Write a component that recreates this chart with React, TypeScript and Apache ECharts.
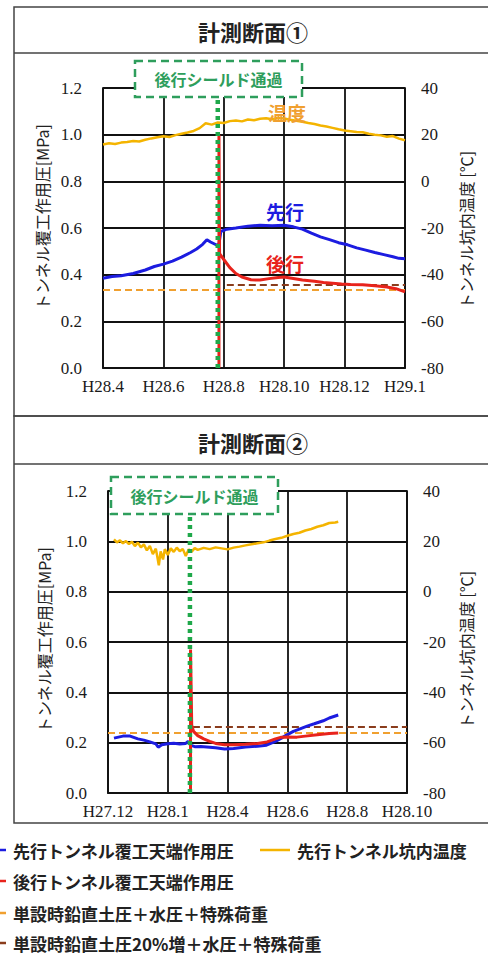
import React, { useEffect, useRef } from "react";
import * as echarts from "echarts";

// ---- tick labels ----
const X_LABELS_1 = ["H28.4", "H28.6", "H28.8", "H28.10", "H28.12", "H29.1"];
const X_LABELS_2 = ["H27.12", "H28.1", "H28.4", "H28.6", "H28.8", "H28.10"];

// ---- section 1 (x = tick index position) ----
const s1Lead: [number, number][] = [
  [0, 0.385], [0.15, 0.392], [0.3, 0.395], [0.5, 0.405], [0.7, 0.42], [0.85, 0.435], [1.0, 0.445],
  [1.15, 0.458], [1.3, 0.475], [1.45, 0.495], [1.55, 0.51], [1.65, 0.53], [1.72, 0.55], [1.78, 0.54],
  [1.88, 0.527], [1.92, 0.53], [1.95, 0.585], [2.05, 0.595], [2.2, 0.6], [2.4, 0.608], [2.6, 0.612],
  [2.8, 0.61], [3.0, 0.612], [3.15, 0.605], [3.3, 0.595], [3.45, 0.578], [3.6, 0.562], [3.75, 0.55],
  [3.9, 0.537], [4.05, 0.528], [4.2, 0.515], [4.35, 0.505], [4.5, 0.495], [4.65, 0.486], [4.8, 0.477],
  [4.9, 0.47], [5.0, 0.468],
];
const s1Trail: [number, number][] = [
  [1.92, 0], [1.92, 1.0], [1.93, 0.49], [2.0, 0.465], [2.1, 0.43], [2.2, 0.405], [2.3, 0.39],
  [2.45, 0.378], [2.6, 0.377], [2.75, 0.383], [2.9, 0.388], [3.0, 0.39], [3.15, 0.384], [3.3, 0.377],
  [3.5, 0.372], [3.65, 0.366], [3.8, 0.363], [3.95, 0.36], [4.1, 0.358], [4.3, 0.357], [4.5, 0.352],
  [4.7, 0.347], [4.85, 0.34], [5.0, 0.326],
];
const s1Temp: [number, number][] = [
  [0.0, 15.8], [0.1, 16.3], [0.2, 16.0], [0.3, 16.6], [0.4, 16.9], [0.5, 17.3], [0.6, 17.1],
  [0.7, 17.8], [0.8, 18.4], [0.9, 18.9], [1.0, 19.3], [1.1, 19.0], [1.2, 19.8], [1.3, 20.4],
  [1.4, 20.9], [1.5, 21.6], [1.6, 22.8], [1.7, 24.9], [1.8, 24.3], [1.9, 25.2], [2.0, 25.0],
  [2.1, 25.8], [2.2, 26.1], [2.3, 25.7], [2.4, 26.5], [2.5, 26.2], [2.6, 26.8], [2.7, 27.0],
  [2.8, 26.6], [2.9, 27.2], [3.0, 26.9], [3.1, 26.4], [3.2, 26.0], [3.3, 25.5], [3.4, 25.0],
  [3.5, 24.6], [3.6, 23.9], [3.7, 23.5], [3.8, 22.9], [3.9, 22.3], [4.0, 21.8], [4.1, 21.5],
  [4.2, 21.1], [4.3, 21.0], [4.4, 20.4], [4.5, 20.0], [4.6, 19.7], [4.7, 19.1], [4.8, 19.4],
  [4.9, 18.3], [5.0, 17.6],
];
const s1Design = 0.334;
const s1Design20 = 0.356;
const s1Design20Start = 2.05;
const s1Pass = 1.9;

// ---- section 2 ----
const s2Lead: [number, number][] = [
  [0.1, 0.218], [0.25, 0.226], [0.37, 0.226], [0.5, 0.215], [0.6, 0.21], [0.7, 0.203], [0.8, 0.195],
  [0.84, 0.182], [0.9, 0.192], [1.0, 0.196], [1.1, 0.198], [1.2, 0.195], [1.3, 0.197], [1.34, 0.205],
  [1.38, 0.19], [1.45, 0.184], [1.55, 0.185], [1.65, 0.183], [1.8, 0.18], [1.95, 0.175], [2.1, 0.177],
  [2.3, 0.183], [2.5, 0.186], [2.65, 0.19], [2.8, 0.205], [2.9, 0.218], [3.0, 0.232], [3.1, 0.245],
  [3.2, 0.254], [3.33, 0.266], [3.45, 0.275], [3.6, 0.287], [3.7, 0.298], [3.85, 0.31],
];
const s2Trail: [number, number][] = [
  [1.38, 0], [1.38, 0.57], [1.4, 0.27], [1.43, 0.245], [1.5, 0.228], [1.6, 0.215], [1.7, 0.205],
  [1.8, 0.197], [1.95, 0.192], [2.1, 0.192], [2.3, 0.194], [2.5, 0.197], [2.66, 0.203], [2.8, 0.215],
  [2.9, 0.222], [3.0, 0.223], [3.16, 0.222], [3.3, 0.226], [3.5, 0.231], [3.7, 0.236], [3.85, 0.238],
];
const s2Temp: [number, number][] = [
  [0.1, 20.8], [0.15, 19.6], [0.2, 20.4], [0.25, 19.2], [0.3, 20.1], [0.35, 18.9], [0.4, 19.8],
  [0.45, 18.1], [0.5, 19.5], [0.55, 17.6], [0.6, 18.8], [0.65, 16.4], [0.7, 18.2], [0.75, 14.9],
  [0.8, 17.1], [0.85, 10.5], [0.88, 16.0], [0.92, 12.8], [0.95, 16.9], [1.0, 14.6], [1.05, 17.2],
  [1.1, 15.8], [1.15, 17.5], [1.2, 16.1], [1.25, 17.0], [1.3, 14.2], [1.35, 16.8], [1.4, 15.9],
  [1.45, 17.3], [1.5, 16.6], [1.6, 17.4], [1.7, 16.9], [1.8, 17.6], [1.9, 17.2], [2.0, 16.8],
  [2.1, 17.5], [2.2, 17.9], [2.3, 18.4], [2.4, 18.8], [2.5, 19.2], [2.6, 19.6], [2.7, 20.3],
  [2.8, 20.9], [2.9, 21.4], [3.0, 22.2], [3.1, 22.9], [3.2, 23.4], [3.3, 24.3], [3.4, 24.9],
  [3.5, 25.8], [3.6, 26.4], [3.7, 27.3], [3.8, 27.5], [3.85, 27.8],
];
const s2Design = 0.238;
const s2Design20 = 0.262;
const s2Design20Start = 1.42;
const s2Pass = 1.37;

const LEGEND_NAMES = [
  "先行トンネル覆工天端作用圧",
  "後行トンネル覆工天端作用圧",
  "単設時鉛直土圧＋水圧＋特殊荷重",
  "単設時鉛直土圧20%増＋水圧＋特殊荷重",
];
const LEGEND_TEMP = "先行トンネル坑内温度";

const C_BLUE = "#1c1ce0";
const C_RED = "#e8231c";
const C_YELLOW = "#f4b400";
const C_ORANGE = "#f0a030";
const C_BROWN = "#8a3c1c";
const C_GREEN = "#2e9e5c";
const C_DOT = "#1fa84a";

const SERIF = "'Liberation Serif', 'Times New Roman', serif";
const JP = "'Noto Sans CJK JP', 'Noto Sans', sans-serif";

export default function App() {
  const ref = useRef<HTMLDivElement>(null);
  useEffect(() => {
    if (!ref.current) return;
    const chart = echarts.init(ref.current, undefined, { renderer: "svg" });

    const gridLine = { show: true, lineStyle: { color: "#111", width: 1.8 } };
    const axisLine = { show: true, lineStyle: { color: "#111", width: 1.8 } };
    const tickLabel = { fontFamily: SERIF, fontSize: 17, color: "#1a1a1a" };

    const xAxisFor = (gi: number, labels: string[]) => ({
      type: "value", gridIndex: gi, min: 0, max: 5, interval: 1,
      axisLine, axisTick: { show: false }, splitLine: gridLine,
      axisLabel: { ...tickLabel, margin: 10, formatter: (v: number) => labels[Math.round(v)] ?? "" },
    });
    const yLeft = (gi: number) => ({
      type: "value", gridIndex: gi, min: 0, max: 1.2, interval: 0.2, position: "left",
      axisLine, axisTick: { show: false }, splitLine: gridLine,
      axisLabel: { ...tickLabel, margin: 21, formatter: (v: number) => v.toFixed(1) },
    });
    const yRight = (gi: number) => ({
      type: "value", gridIndex: gi, min: -80, max: 40, interval: 20, position: "right",
      axisLine, axisTick: { show: false }, splitLine: { show: false },
      axisLabel: { ...tickLabel, margin: 16 },
    });

    const line = (xi: number, yi: number, data: any[], color: string, width: number, extra: any = {}) => ({
      type: "line", xAxisIndex: xi, yAxisIndex: yi, data, showSymbol: false, symbol: "none",
      lineStyle: { color, width }, z: 3, silent: true, ...extra,
    });
    const hline = (xi: number, yi: number, x0: number, v: number, color: string) =>
      line(xi, yi, [[x0, v], [5, v]], color, 2, { lineStyle: { color, width: 2, type: [7, 4] }, z: 2 });
    const passLine = (xi: number, yi: number, x: number) =>
      line(xi, yi, [[x, 0], [x, 1.2]], C_DOT, 4.5, { lineStyle: { color: C_DOT, width: 4.5, type: [4, 4], cap: "butt" }, z: 6 });

    const graphic: any[] = [];
    const frame = (y: number, h: number, divY: number, title: string, ty: number) => {
      graphic.push({ type: "rect", shape: { x: 14, y, width: 490, height: h }, style: { fill: "none", stroke: "#444", lineWidth: 1.5 }, z: 100 });
      graphic.push({ type: "line", shape: { x1: 14, y1: divY, x2: 488, y2: divY }, style: { stroke: "#444", lineWidth: 1.5 }, z: 100 });
      graphic.push({ type: "text", x: 253, y: ty, style: { text: title, font: `bold 22px ${JP}`, fill: "#222", textAlign: "center", textVerticalAlign: "middle" }, z: 100 });
    };
    frame(7, 409, 53, "計測断面①", 31);
    frame(416, 407, 464, "計測断面②", 442);

    const vtitle = (x: number, y: number, text: string) =>
      graphic.push({ type: "text", x, y, rotation: Math.PI / 2, style: { text, font: `16px ${JP}`, fill: "#222", textAlign: "center", textVerticalAlign: "middle" }, z: 100 });
    vtitle(42, 217, "トンネル覆工作用圧[MPa]");
    vtitle(466, 230, "トンネル坑内温度 [℃]");
    vtitle(44, 640, "トンネル覆工作用圧[MPa]");
    vtitle(466, 650, "トンネル坑内温度 [℃]");

    const passBox = (x: number, y: number, w: number, h: number) => {
      graphic.push({ type: "rect", shape: { x, y, width: w, height: h }, style: { fill: "#fff", stroke: C_GREEN, lineWidth: 2.5, lineDash: [8, 5] }, z: 100 });
      graphic.push({ type: "text", x: x + w / 2, y: y + h / 2, style: { text: "後行シールド通過", font: `bold 16px ${JP}`, fill: C_GREEN, textAlign: "center", textVerticalAlign: "middle" }, z: 101 });
    };
    passBox(135, 61, 167, 36);
    passBox(111, 477, 167, 37);

    const tag = (x: number, y: number, text: string, color: string) =>
      graphic.push({ type: "text", x, y, style: { text, font: `bold 19px ${JP}`, fill: color, textAlign: "center", textVerticalAlign: "middle" }, z: 100 });
    tag(287, 112, "温度", C_ORANGE);
    tag(285, 211, "先行", C_BLUE);
    tag(285, 263, "後行", C_RED);

    const legendColors = [C_BLUE, C_RED, C_ORANGE, C_BROWN];
    const rowsY = [850, 881, 913, 943];
    LEGEND_NAMES.forEach((name, i) => {
      graphic.push({ type: "line", shape: { x1: 0, y1: rowsY[i], x2: 6, y2: rowsY[i] }, style: { stroke: legendColors[i], lineWidth: 2.5 }, z: 100 });
      graphic.push({ type: "text", x: 13, y: rowsY[i], style: { text: name, font: `bold 17px ${JP}`, fill: "#222", textVerticalAlign: "middle" }, z: 100 });
    });
    graphic.push({ type: "line", shape: { x1: 260, y1: rowsY[0], x2: 290, y2: rowsY[0] }, style: { stroke: C_YELLOW, lineWidth: 2.5 }, z: 100 });
    graphic.push({ type: "text", x: 297, y: rowsY[0], style: { text: LEGEND_TEMP, font: `bold 17px ${JP}`, fill: "#222", textVerticalAlign: "middle" }, z: 100 });

    chart.setOption({
      animation: false,
      backgroundColor: "#fff",
      grid: [
        { left: 103, top: 88, width: 302, height: 280 },
        { left: 108, top: 491, width: 299, height: 302 },
      ],
      xAxis: [xAxisFor(0, X_LABELS_1), xAxisFor(1, X_LABELS_2)],
      yAxis: [yLeft(0), yRight(0), yLeft(1), yRight(1)],
      series: [
        hline(0, 0, 0, s1Design, C_ORANGE),
        hline(0, 0, s1Design20Start, s1Design20, C_BROWN),
        line(0, 1, s1Temp, C_YELLOW, 2.5),
        line(0, 0, s1Lead, C_BLUE, 3),
        line(0, 0, s1Trail, C_RED, 3),
        passLine(0, 0, s1Pass),
        hline(1, 2, 0, s2Design, C_ORANGE),
        hline(1, 2, s2Design20Start, s2Design20, C_BROWN),
        line(1, 3, s2Temp, C_YELLOW, 2.5),
        line(1, 2, s2Lead, C_BLUE, 3),
        line(1, 2, s2Trail, C_RED, 3),
        passLine(1, 2, s2Pass),
      ],
      graphic,
    } as any);
    return () => chart.dispose();
  }, []);
  return <div ref={ref} style={{ position: "absolute", left: 0, top: 0, width: 488, height: 956 }} />;
}
